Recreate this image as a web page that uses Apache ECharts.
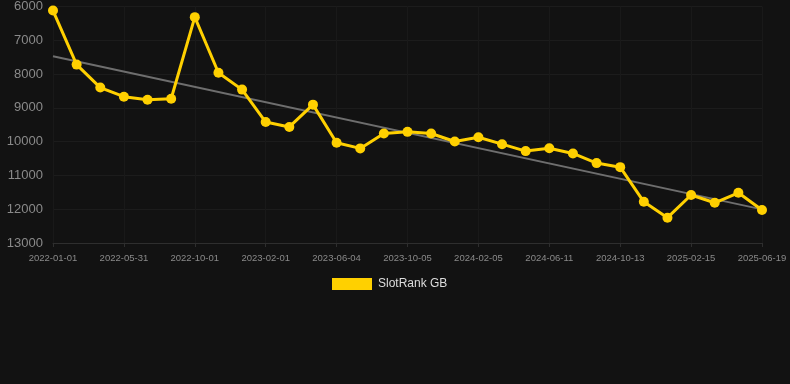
<!DOCTYPE html>
<html>
<head>
<meta charset="utf-8">
<script src="https://cdn.jsdelivr.net/npm/echarts@6/dist/echarts.min.js"></script>
<style>
html,body{margin:0;padding:0;background:#121212;}
#chart{width:790px;height:384px;}
</style>
</head>
<body>
<div id="chart"></div>
<script>
const categories = [
  "2022-01-01","2022-02-20","2022-04-11","2022-05-31","2022-07-11","2022-08-21",
  "2022-10-01","2022-11-11","2022-12-22","2023-02-01","2023-03-15","2023-04-24",
  "2023-06-04","2023-07-15","2023-08-25","2023-10-05","2023-11-15","2023-12-26",
  "2024-02-05","2024-03-18","2024-04-30","2024-06-11","2024-07-22","2024-09-01",
  "2024-10-13","2024-11-23","2025-01-04","2025-02-15","2025-03-28","2025-05-09",
  "2025-06-19"
];
const rankValues = [
  6120, 7720, 8400, 8670, 8760, 8730,
  6315, 7960, 8460, 9420, 9565, 8905,
  10035, 10200, 9760, 9710, 9760, 9995,
  9870, 10075, 10280, 10195, 10350, 10635,
  10755, 11780, 12250, 11580, 11810, 11515,
  12025
];
const trendStart = 7470;
const trendEnd = 12005;
const yTicks = [6000, 13000, 1000];
const seriesName = "SlotRank GB";

const chart = echarts.init(document.getElementById('chart'));
chart.setOption({
  backgroundColor: '#121212',
  animation: false,
  grid: {left: 53, right: 28, top: 6, bottom: 141},
  legend: {
    data: [seriesName],
    top: 278,
    left: 332,
    padding: 0,
    itemWidth: 40,
    itemHeight: 12,
    itemGap: 6,
    icon: 'rect',
    textStyle: {color: '#dddddd', fontSize: 12, padding: [0,0,0,1], fontFamily: 'Arial, Liberation Sans, sans-serif'}
  },
  xAxis: {
    type: 'category',
    data: categories,
    boundaryGap: false,
    axisLine: {show: true, lineStyle: {color: '#2e2e2e'}},
    axisTick: {show: true, interval: 2, length: 4, lineStyle: {color: '#2e2e2e'}},
    axisLabel: {interval: 2, color: '#8a8a8a', fontSize: 9.5, margin: 10, fontFamily: 'Arial, Liberation Sans, sans-serif'},
    splitLine: {show: true, interval: 2, lineStyle: {color: '#191919'}}
  },
  yAxis: {
    type: 'value',
    inverse: true,
    min: yTicks[0],
    max: yTicks[1],
    interval: yTicks[2],
    axisLine: {show: false},
    axisTick: {show: false},
    axisLabel: {color: '#8a8a8a', fontSize: 13, margin: 10, formatter: v => String(v), fontFamily: 'Arial, Liberation Sans, sans-serif'},
    splitLine: {show: true, lineStyle: {color: '#1c1c1c'}}
  },
  series: [
    {
      name: 'trend',
      type: 'line',
      data: [[0, trendStart], [categories.length - 1, trendEnd]],
      symbol: 'none',
      lineStyle: {color: '#6e6e6e', width: 2},
      silent: true,
      z: 1
    },
    {
      name: seriesName,
      type: 'line',
      data: rankValues,
      symbol: 'circle',
      symbolSize: 10,
      itemStyle: {color: '#FFD000'},
      lineStyle: {color: '#FFD000', width: 3},
      z: 2
    }
  ]
});
</script>
</body>
</html>
